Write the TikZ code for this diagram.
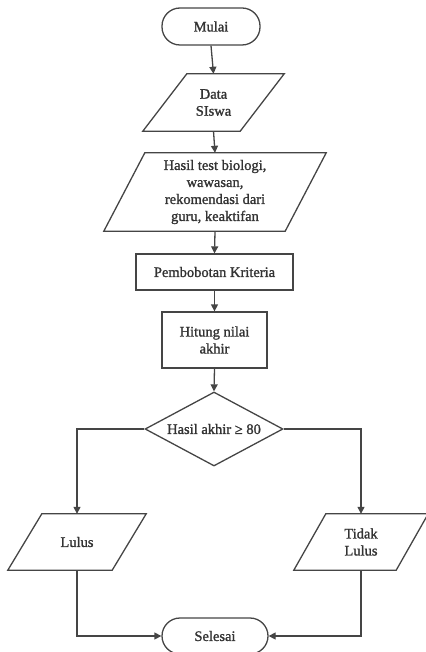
\documentclass[tikz,border=0pt]{standalone}
\usepackage{fontspec}
\setmainfont{Liberation Serif}[FakeBold=1.3]
\usetikzlibrary{arrows.meta,shapes.geometric}
\definecolor{linec}{HTML}{454545}
\definecolor{textc}{HTML}{333333}
\newcommand\paradraw[2]{\draw[shapeline] ([xshift=#2]#1.north west) -- ([xshift=#2]#1.north east) -- ([xshift=-#2]#1.south east) -- ([xshift=-#2]#1.south west) -- cycle;}
\begin{document}
\begin{tikzpicture}[x=1pt,y=-1pt,
  every node/.style={font=\fontsize{14.5}{17}\selectfont, text=textc, align=center, inner sep=0pt},
  shapeline/.style={draw=linec, line width=1.3pt},
  term/.style={shapeline, rectangle, rounded corners=18pt},
  procbox/.style={shapeline, rectangle},
  parabody/.style={rectangle},
  decide/.style={shapeline, diamond, aspect=1.865},
  flow/.style={draw=linec, line width=1.3pt, -{Triangle[length=7pt,width=7pt]}},
  plain/.style={draw=linec, line width=1.3pt}
]
\useasboundingbox (0,0) rectangle (425,652);

\node[term, minimum width=98pt, minimum height=37pt] (mulai) at (211,26.5) {Mulai};
\node[parabody, minimum width=97pt, minimum height=57pt] (data) at (213.5,102.5) {Data\\SIswa};
\paradraw{data}{22pt}
\node[parabody, minimum width=181pt, minimum height=78pt] (hasil) at (215,192) {Hasil test biologi,\\wawasan,\\rekomendasi dari\\guru, keaktifan};
\paradraw{hasil}{20.5pt}
\node[procbox, minimum width=157pt, minimum height=36pt] (bobot) at (214.5,272) {Pembobotan Kriteria};
\node[procbox, minimum width=105pt, minimum height=56pt] (hitung) at (214.5,340) {Hitung nilai\\akhir};
\node[decide, minimum width=138pt, minimum height=74pt] (cek) at (214,429) {Hasil akhir ≥ 80};
\node[parabody, minimum width=104pt, minimum height=56pt] (lulus) at (77,542) {Lulus};
\paradraw{lulus}{17pt}
\node[parabody, minimum width=102pt, minimum height=56pt] (tidak) at (361,542) {Tidak\\Lulus};
\paradraw{tidak}{16pt}
\node[term, minimum width=106pt, minimum height=36pt] (selesai) at (215,636) {Selesai};

\draw[flow] (mulai.south) -- (data.north);
\draw[flow] (data.south) -- (hasil.north);
\draw[flow] (hasil.south) -- (bobot.north);
\draw[flow] (bobot.south) -- (hitung.north);
\draw[flow] (hitung.south) -- (cek.north);
\draw[flow] (cek.west) -| (lulus.north);
\draw[flow] (cek.east) -| (tidak.north);
\draw[flow] (lulus.south) |- (selesai.west);
\draw[flow] (tidak.south) |- (selesai.east);
\end{tikzpicture}
\end{document}
